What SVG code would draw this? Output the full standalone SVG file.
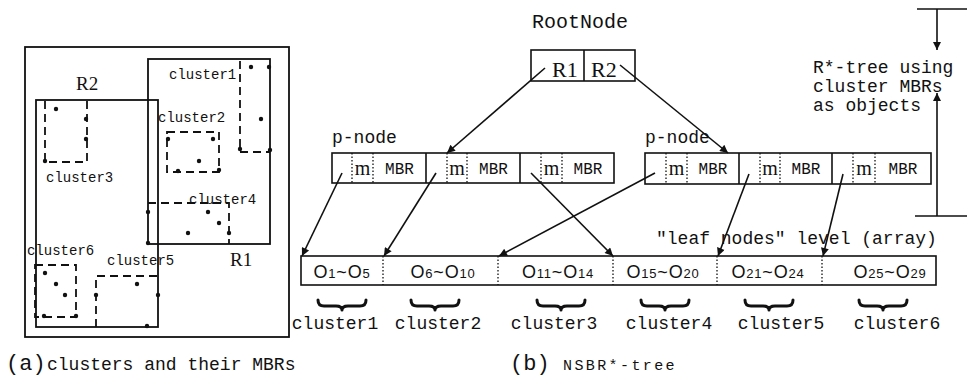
<svg xmlns="http://www.w3.org/2000/svg" width="969" height="388" viewBox="0 0 969 388">
<defs>
<style>
.bg{fill:#ffffff}
.box{fill:#ffffff;stroke:#111;stroke-width:1.6}
.solid{fill:none;stroke:#111;stroke-width:1.6}
.dot{fill:none;stroke:#111;stroke-width:1.3;stroke-dasharray:1.5 2}
.frame{fill:none;stroke:#111;stroke-width:1.8}
.dash{fill:none;stroke:#111;stroke-width:1.8;stroke-dasharray:8 5}
.pt{fill:#111}
.mono{font-family:"Liberation Mono","DejaVu Sans Mono",monospace;fill:#111}
.serif{font-family:"Liberation Serif","DejaVu Serif",serif;fill:#111}
.sans{font-family:"Liberation Sans","DejaVu Sans",sans-serif;fill:#111}
.conn{fill:none;stroke:#111;stroke-width:1.6}
.brace{fill:none;stroke:#111;stroke-width:3;stroke-linecap:round;stroke-linejoin:round}
.lbl{font-size:18px}
.sm{font-size:14px}
.sub{font-size:13px}
</style>
<marker id="ah" viewBox="0 0 10 10" refX="10" refY="5" markerWidth="11" markerHeight="8" markerUnits="userSpaceOnUse" orient="auto">
<path d="M0,0 L10,5 L0,10 z" fill="#111"/>
</marker>
</defs>
<rect class="bg" x="0" y="0" width="969" height="388"/>

<!-- (a) clusters panel -->
<g id="panel-a">
<rect class="frame" x="25" y="47" width="264" height="290"/>
<rect class="frame" x="148" y="59" width="122" height="185"/>
<rect class="frame" x="36" y="100" width="122" height="227"/>
<text class="serif" x="76" y="90" font-size="19">R2</text>
<text class="serif" x="230" y="266" font-size="19">R1</text>
<g id="c1"><path class="dash" d="M240,61 V152 H270"/>
<circle class="pt" cx="251" cy="67" r="2.2"/><circle class="pt" cx="269" cy="67" r="2.2"/><circle class="pt" cx="261" cy="119" r="2.2"/><circle class="pt" cx="240" cy="149" r="2.2"/><circle class="pt" cx="270" cy="150" r="2.2"/>
<text class="mono sm" x="169" y="79">cluster1</text></g>
<g id="c2"><rect class="dash" x="167" y="132" width="52" height="40"/>
<circle class="pt" cx="168" cy="139" r="2.2"/><circle class="pt" cx="213" cy="139" r="2.2"/><circle class="pt" cx="199" cy="161" r="2.2"/><circle class="pt" cx="178" cy="171" r="2.2"/><circle class="pt" cx="219" cy="170" r="2.2"/>
<text class="mono sm" x="158" y="122">cluster2</text></g>
<g id="c3"><path class="dash" d="M45,101 V162 H87 V101"/>
<circle class="pt" cx="56" cy="109" r="2.2"/><circle class="pt" cx="86" cy="119" r="2.2"/><circle class="pt" cx="86" cy="139" r="2.2"/><circle class="pt" cx="45" cy="161" r="2.2"/>
<text class="mono sm" x="46" y="182">cluster3</text></g>
<g id="c4"><path class="dash" d="M148,203 H229 V244"/>
<circle class="pt" cx="148" cy="212" r="2.2"/><circle class="pt" cx="208" cy="212" r="2.2"/><circle class="pt" cx="219" cy="223" r="2.2"/><circle class="pt" cx="188" cy="233" r="2.2"/><circle class="pt" cx="229" cy="233" r="2.2"/><circle class="pt" cx="148" cy="243" r="2.2"/>
<text class="mono sm" x="189" y="204">cluster4</text></g>
<g id="c6"><rect class="dash" x="35" y="265" width="41" height="52"/>
<circle class="pt" cx="45" cy="273" r="2.2"/><circle class="pt" cx="56" cy="284" r="2.2"/><circle class="pt" cx="65" cy="295" r="2.2"/><circle class="pt" cx="44" cy="316" r="2.2"/><circle class="pt" cx="76" cy="316" r="2.2"/>
<text class="mono sm" x="27" y="255">cluster6</text></g>
<g id="c5"><path class="dash" d="M96,327 V276 H158"/>
<circle class="pt" cx="96" cy="295" r="2.2"/><circle class="pt" cx="137" cy="284" r="2.2"/><circle class="pt" cx="158" cy="295" r="2.2"/><circle class="pt" cx="147" cy="326" r="2.2"/>
<text class="mono sm" x="107" y="265">cluster5</text></g>
<text class="mono" x="6" y="370" font-size="22">(a)</text>
<text class="mono lbl" x="47" y="370">clusters and their MBRs</text>
</g>

<!-- (b) NSBR*-tree -->
<g id="root-node">
<text class="mono" x="532" y="28" font-size="20">RootNode</text>
<rect class="box" x="531" y="50" width="104" height="31"/>
<line class="solid" x1="584" y1="50" x2="584" y2="81"/>
<text class="serif" x="552" y="77" font-size="22">R1</text>
<text class="serif" x="591" y="77" font-size="22">R2</text>
</g>

<g id="pnode-left">
<text class="mono lbl" x="332" y="143">p-node</text>
<rect class="box" x="332" y="153" width="282" height="30"/>
<line class="solid" x1="426" y1="153" x2="426" y2="183"/>
<line class="solid" x1="520" y1="153" x2="520" y2="183"/>
<line class="dot" x1="352" y1="153" x2="352" y2="183"/><line class="dot" x1="373" y1="153" x2="373" y2="183"/>
<line class="dot" x1="447" y1="153" x2="447" y2="183"/><line class="dot" x1="467" y1="153" x2="467" y2="183"/>
<line class="dot" x1="541" y1="153" x2="541" y2="183"/><line class="dot" x1="562" y1="153" x2="562" y2="183"/>
<text class="serif" x="362.5" y="175" font-size="20" text-anchor="middle">m</text>
<text class="serif" x="457" y="175" font-size="20" text-anchor="middle">m</text>
<text class="serif" x="551.5" y="175" font-size="20" text-anchor="middle">m</text>
<text class="mono" x="399.5" y="174" font-size="16" text-anchor="middle">MBR</text>
<text class="mono" x="493.5" y="174" font-size="16" text-anchor="middle">MBR</text>
<text class="mono" x="588" y="174" font-size="16" text-anchor="middle">MBR</text>
</g>

<g id="pnode-right">
<text class="mono lbl" x="645" y="143">p-node</text>
<rect class="box" x="645" y="153" width="286" height="31"/>
<line class="solid" x1="739" y1="153" x2="739" y2="184"/>
<line class="solid" x1="832" y1="153" x2="832" y2="184"/>
<line class="dot" x1="666" y1="153" x2="666" y2="184"/><line class="dot" x1="687" y1="153" x2="687" y2="184"/>
<line class="dot" x1="760" y1="153" x2="760" y2="184"/><line class="dot" x1="780" y1="153" x2="780" y2="184"/>
<line class="dot" x1="853" y1="153" x2="853" y2="184"/><line class="dot" x1="875" y1="153" x2="875" y2="184"/>
<text class="serif" x="676.5" y="175" font-size="20" text-anchor="middle">m</text>
<text class="serif" x="770" y="175" font-size="20" text-anchor="middle">m</text>
<text class="serif" x="864" y="175" font-size="20" text-anchor="middle">m</text>
<text class="mono" x="713" y="174" font-size="16" text-anchor="middle">MBR</text>
<text class="mono" x="806" y="174" font-size="16" text-anchor="middle">MBR</text>
<text class="mono" x="903" y="174" font-size="16" text-anchor="middle">MBR</text>
</g>

<g id="leaf-array">
<text class="mono lbl" x="656" y="244">"leaf nodes" level (array)</text>
<rect class="box" x="301" y="256" width="635" height="29"/>
<line class="dot" x1="383" y1="256" x2="383" y2="285"/>
<line class="dot" x1="498" y1="256" x2="498" y2="285"/>
<line class="dot" x1="613" y1="256" x2="613" y2="285"/>
<line class="dot" x1="717" y1="256" x2="717" y2="285"/>
<line class="dot" x1="822" y1="256" x2="822" y2="285"/>
<text class="sans" x="342" y="278" font-size="18" text-anchor="middle" letter-spacing="0.8">O<tspan class="sub">1</tspan>~O<tspan class="sub">5</tspan></text>
<text class="sans" x="443" y="278" font-size="18" text-anchor="middle" letter-spacing="0.8">O<tspan class="sub">6</tspan>~O<tspan class="sub">10</tspan></text>
<text class="sans" x="558" y="278" font-size="18" text-anchor="middle" letter-spacing="0.8">O<tspan class="sub">11</tspan>~O<tspan class="sub">14</tspan></text>
<text class="sans" x="663" y="278" font-size="18" text-anchor="middle" letter-spacing="0.8">O<tspan class="sub">15</tspan>~O<tspan class="sub">20</tspan></text>
<text class="sans" x="768" y="278" font-size="18" text-anchor="middle" letter-spacing="0.8">O<tspan class="sub">21</tspan>~O<tspan class="sub">24</tspan></text>
<text class="sans" x="890" y="278" font-size="18" text-anchor="middle" letter-spacing="0.8">O<tspan class="sub">25</tspan>~O<tspan class="sub">29</tspan></text>
</g>

<g id="cluster-braces">
<path class="brace" d="M318,300 q0,6 6,6 h12 q6,0 6,4 q0,-4 6,-4 h12 q6,0 6,-6"/>
<path class="brace" d="M411,300 q0,6 6,6 h12 q6,0 6,4 q0,-4 6,-4 h12 q6,0 6,-6"/>
<path class="brace" d="M537,300 q0,6 6,6 h12 q6,0 6,4 q0,-4 6,-4 h12 q6,0 6,-6"/>
<path class="brace" d="M641,300 q0,6 6,6 h12 q6,0 6,4 q0,-4 6,-4 h12 q6,0 6,-6"/>
<path class="brace" d="M745,300 q0,6 6,6 h12 q6,0 6,4 q0,-4 6,-4 h12 q6,0 6,-6"/>
<path class="brace" d="M859,300 q0,6 6,6 h12 q6,0 6,4 q0,-4 6,-4 h12 q6,0 6,-6"/>
<text class="mono lbl" x="335" y="329" text-anchor="middle">cluster1</text>
<text class="mono lbl" x="438" y="329" text-anchor="middle">cluster2</text>
<text class="mono lbl" x="554" y="329" text-anchor="middle">cluster3</text>
<text class="mono lbl" x="669" y="329" text-anchor="middle">cluster4</text>
<text class="mono lbl" x="781" y="329" text-anchor="middle">cluster5</text>
<text class="mono lbl" x="897" y="329" text-anchor="middle">cluster6</text>
</g>

<g id="rtree-extent">
<line class="solid" x1="917" y1="9" x2="967" y2="9"/>
<line class="solid" x1="915" y1="216" x2="967" y2="216"/>
<line class="conn" x1="937" y1="9" x2="937" y2="50" marker-end="url(#ah)"/>
<line class="conn" x1="937" y1="216" x2="937" y2="93" marker-end="url(#ah)"/>
<text class="mono lbl" x="813" y="73">R*-tree using</text>
<text class="mono lbl" x="813" y="92">cluster MBRs</text>
<text class="mono lbl" x="813" y="111">as objects</text>
</g>

<g id="connectors">
<line class="conn" x1="545" y1="68" x2="447" y2="153" marker-end="url(#ah)"/>
<line class="conn" x1="620" y1="65" x2="728" y2="153" marker-end="url(#ah)"/>
<line class="conn" x1="342" y1="173" x2="302" y2="256" marker-end="url(#ah)"/>
<line class="conn" x1="436" y1="173" x2="384" y2="256" marker-end="url(#ah)"/>
<line class="conn" x1="531" y1="173" x2="613" y2="256" marker-end="url(#ah)"/>
<line class="conn" x1="655" y1="173" x2="499" y2="256" marker-end="url(#ah)"/>
<line class="conn" x1="749" y1="174" x2="718" y2="256" marker-end="url(#ah)"/>
<line class="conn" x1="843" y1="174" x2="823" y2="256" marker-end="url(#ah)"/>
</g>

<g id="caption-b">
<text class="mono" x="510" y="370" font-size="22">(b)</text>
<text class="mono" x="563" y="370" font-size="15" letter-spacing="2.4">NSBR*-tree</text>
</g>
</svg>
